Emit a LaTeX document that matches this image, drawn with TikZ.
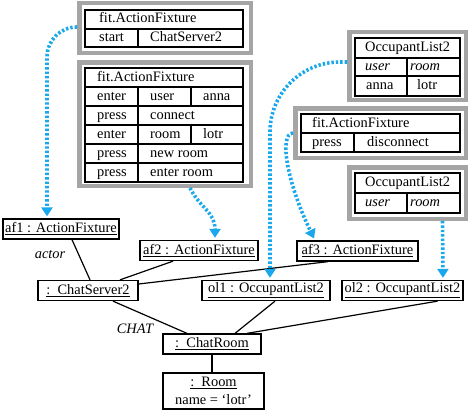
\documentclass[tikz,border=0pt]{standalone}
\usepackage{fontspec}
\setmainfont{Liberation Serif}
\usetikzlibrary{arrows.meta,calc}
\definecolor{linkblue}{RGB}{25,168,235}
\definecolor{framegray}{RGB}{165,165,165}

\begin{document}
\begin{tikzpicture}[
  x=1pt, y=-1pt,
  font=\fontsize{14.4}{17.5}\selectfont,
  fixframe/.style={draw=framegray, line width=4.5pt, inner sep=0pt},
  tblline/.style={draw, line width=1.1pt},
  cell/.style={anchor=west, inner sep=0pt, text height=10pt, text depth=3pt},
  obj/.style={draw, line width=1.3pt, minimum height=20pt, inner sep=0pt},
  lbl/.style={inner sep=0pt, font=\fontsize{14.4}{17}\selectfont\itshape},
  link/.style={line width=1.2pt},
  fixlink/.style={linkblue, line width=3.6pt, dash pattern=on 2.4pt off 2pt,
    -{Triangle[width=11pt,length=9pt]}, shorten >=2pt}
]
  \useasboundingbox (0,0) rectangle (470,412);

  % Fixture tables
  \node[fixframe, minimum width=171.5pt, minimum height=49.5pt] (t1) at (165,28) {};
  \draw[tblline] (85,10) rectangle (243,47);
  \draw[tblline] (85,29) -- (243,29) (138,29) -- (138,47);
  \node[cell] (t1title) at (99,19.5) {fit.ActionFixture};
  \node[cell] (t1a) at (99,38) {start};
  \node[cell] (t1b) at (150,38) {ChatServer2};

  \node[fixframe, minimum width=171.5pt, minimum height=123.5pt] (t2) at (165,124) {};
  \draw[tblline] (85,68) rectangle (243,182);
  \foreach \y in {87,106,125,144,163}
    \draw[tblline] (85,\y) -- (243,\y);
  \draw[tblline] (138,87) -- (138,182);
  \draw[tblline] (191,87) -- (191,106) (191,125) -- (191,144);
  \node[cell] (t2title) at (97,77.5) {fit.ActionFixture};
  \node[cell] (t2a) at (97,96.5) {enter};
  \node[cell] (t2b) at (150,96.5) {user};
  \node[cell] (t2c) at (203,96.5) {anna};
  \node[cell] (t2d) at (97,115.5) {press};
  \node[cell] (t2e) at (150,115.5) {connect};
  \node[cell] (t2f) at (97,134.5) {enter};
  \node[cell] (t2g) at (150,134.5) {room};
  \node[cell] (t2h) at (203,134.5) {lotr};
  \node[cell] (t2i) at (97,153.5) {press};
  \node[cell] (t2j) at (150,153.5) {new room};
  \node[cell] (t2k) at (97,172.5) {press};
  \node[cell] (t2l) at (150,172.5) {enter room};

  \node[fixframe, minimum width=116.5pt, minimum height=67.5pt] (t3) at (407.5,66) {};
  \draw[tblline] (355,38) rectangle (460,96);
  \draw[tblline] (355,58) -- (460,58) (355,76) -- (460,76) (407,58) -- (407,96);
  \node[cell] (t3title) at (365,48) {OccupantList2};
  \node[cell] (t3a) at (365,67) {\itshape user};
  \node[cell] (t3b) at (410,67) {\itshape room};
  \node[cell] (t3c) at (366,86) {anna};
  \node[cell] (t3d) at (417,86) {lotr};

  \node[fixframe, minimum width=170.5pt, minimum height=49.5pt] (t4) at (380.5,133) {};
  \draw[tblline] (301,114) rectangle (460,152);
  \draw[tblline] (301,133) -- (460,133) (354,133) -- (354,152);
  \node[cell] (t4title) at (312,123.5) {fit.ActionFixture};
  \node[cell] (t4a) at (312,142.5) {press};
  \node[cell] (t4b) at (367,142.5) {disconnect};

  \node[fixframe, minimum width=116.5pt, minimum height=51.5pt] (t5) at (407.5,193) {};
  \draw[tblline] (355,173) rectangle (460,213);
  \draw[tblline] (355,193) -- (460,193) (407,193) -- (407,213);
  \node[cell] (t5title) at (365,183) {OccupantList2};
  \node[cell] (t5a) at (365,203) {\itshape user};
  \node[cell] (t5b) at (410,203) {\itshape room};

  % Objects
  \node[obj, minimum width=116pt] (af1) at (61,229) {\underline{af1 : ActionFixture}};
  \node[obj, minimum width=118pt] (af2) at (199,250.5) {\underline{af2 : ActionFixture}};
  \node[obj, minimum width=121pt] (af3) at (357.5,251) {\underline{af3 : ActionFixture}};
  \node[obj, minimum width=100pt] (srv) at (88,290.5) {\underline{:\enspace ChatServer2}};
  \node[obj, minimum width=128pt] (ol1) at (266,290.5) {\underline{ol1 : OccupantList2}};
  \node[obj, minimum width=121pt] (ol2) at (402.5,290.5) {\underline{ol2 : OccupantList2}};
  \node[obj, minimum width=98pt] (chat) at (212,344) {\underline{:\enspace ChatRoom}};
  \node[obj, minimum width=101pt, minimum height=36pt, align=center] (room) at (213.5,391)
    {\underline{:\enspace Room}\\name = ‘lotr’};

  % Links
  \draw[link] ($(af1.south)+(11,0)$) -- ($(srv.north)+(2,0)$);
  \node[lbl] (actor) at (50,255) {actor};
  \draw[link] ($(af2.south)+(-26,0)$) -- ($(srv.north)+(32,0)$);
  \draw[link] ($(af3.south)+(-29.5,0)$) -- ($(srv.east)+(0,-6.5)$);
  \draw[link] ($(srv.south)+(25,0)$) -- ($(chat.north)+(-25,0)$);
  \node[lbl] (chatlbl) at (135,329) {CHAT};
  \draw[link] ($(ol1.south)+(9,0)$) -- ($(chat.north)+(23,0)$);
  \draw[link] ($(ol2.south)+(35,0)$) -- ($(chat.north)+(35,0)$);
  \draw[link] (chat.south) -- (chat.south |- room.north);

  % Fixture links
  \draw[fixlink, rounded corners=30pt] ($(t1.west)+(0,-1)$) -| ($(af1.north)+(-14,0)$);
  \draw[fixlink] ($(t2.south)+(25,0)$) .. controls (200,208) and (215,212) .. ($(af2.north)+(16,0)$);
  \draw[fixlink, rounded corners=70pt] ($(t3.west)+(0,-4)$) -| ($(ol1.north)+(4,0)$);
  \draw[fixlink] (t4.west) .. controls (278,134) and (288,185) .. ($(af3.north)+(-42.5,0)$);
  \draw[fixlink] ($(t5.south)+(35,0)$) -- ($(ol2.north)+(40.5,0)$);
\end{tikzpicture}
\end{document}
